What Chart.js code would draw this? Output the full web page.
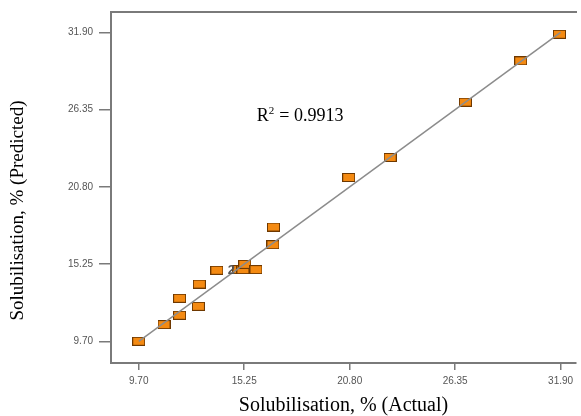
<!DOCTYPE html>
<html>
<head>
<meta charset="utf-8">
<script src="https://cdn.jsdelivr.net/npm/chart.js@4/dist/chart.umd.min.js"></script>
<style>
  html, body { margin: 0; padding: 0; background: #fff; overflow: hidden; }
  #wrap { width: 581px; height: 416px; }
</style>
</head>
<body>
<div id="wrap"><canvas id="parity"></canvas></div>
<script>
// actual vs predicted solubilisation (%)
var actual    = [9.70, 11.03, 11.85, 12.84, 11.85, 12.89, 13.81, 14.97, 15.18, 15.28, 15.87, 16.76, 16.79, 20.75, 22.93, 26.89, 29.80, 31.84];
var predicted = [9.70, 10.90, 11.57, 12.21, 12.79, 13.81, 14.80, 14.85, 14.85, 15.23, 14.85, 16.64, 17.91, 21.47, 22.91, 26.88, 29.85, 31.76];
var tickValues = [9.70, 15.25, 20.80, 26.35, 31.90];
var fitEnds = [9.70, 31.90];
var r2Text = 'R² = 0.9913';
var dupIndex = 7;   // point with the "2" count label

var axisGrey = '#7a7a7a';
var tickFont = { family: 'Liberation Sans', size: 10 };
var titleFont = { family: 'Liberation Serif', size: 20, lineHeight: 1 };

// little orange rectangle marker
var marker = document.createElement('canvas');
marker.width = 13;
marker.height = 9;
var mctx = marker.getContext('2d');
mctx.fillStyle = '#f48a12';
mctx.fillRect(0.5, 0.5, 12, 8);
mctx.strokeStyle = '#6e3800';
mctx.lineWidth = 1;
mctx.strokeRect(0.5, 0.5, 12, 8);

var points = actual.map(function(a, i){ return { x: a, y: predicted[i] }; });
var fitLine = fitEnds.map(function(v){ return { x: v, y: v }; });

function fixTicks(scale){
    scale.ticks = tickValues.map(function(v){ return { value: v }; });
}

// R^2 text, the "2" count label and the y title (sits a bit low in the original)
var labelsPlugin = {
    id: 'labels',
    afterDatasetsDraw: function(chart){
        var ctx = chart.ctx;
        var xs = chart.scales.x, ys = chart.scales.y;
        var rx = xs.getPixelForValue(15.91), ry = ys.getPixelForValue(25.5);
        ctx.save();
        ctx.fillStyle = '#000';
        ctx.font = '18px "Liberation Serif"';
        ctx.textBaseline = 'alphabetic';
        ctx.textAlign = 'left';
        ctx.fillText('R', rx, ry);
        var rw = ctx.measureText('R').width;
        ctx.font = '11px "Liberation Serif"';
        ctx.fillText('2', rx + rw, ry - 7);
        ctx.font = '18px "Liberation Serif"';
        ctx.fillText(r2Text.slice(2), rx + rw + 6, ry);

        ctx.fillStyle = '#555';
        ctx.font = 'bold 13px "Liberation Sans"';
        ctx.textAlign = 'right';
        ctx.textBaseline = 'middle';
        ctx.fillText('2', xs.getPixelForValue(actual[dupIndex]) - 4, ys.getPixelForValue(predicted[dupIndex]) + 1);

        var a = chart.chartArea;
        ctx.translate(18, (a.top + a.bottom) / 2 + 23);
        ctx.rotate(-Math.PI / 2);
        ctx.fillStyle = '#000';
        ctx.font = '19px "Liberation Serif"';
        ctx.textAlign = 'center';
        ctx.fillText('Solubilisation, % (Predicted)', 0, 0);
        ctx.restore();
    }
};

new Chart(document.getElementById('parity'), {
    type: 'scatter',
    data: {
        datasets: [{
            type: 'line',
            data: fitLine,
            borderColor: '#8c8c8c',
            borderWidth: 1.5,
            pointRadius: 0,
            order: 0
        }, {
            data: points,
            pointStyle: marker,
            order: 1
        }]
    },
    options: {
        responsive: true,
        maintainAspectRatio: false,
        animation: false,
        layout: { padding: 0 },
        plugins: {
            legend: { display: false },
            tooltip: { enabled: false }
        },
        scales: {
            x: {
                type: 'linear',
                position: 'bottom',
                min: 8.24,
                max: 32.71,
                afterBuildTicks: fixTicks,
                afterFit: function(s){ s.height = 53; },
                ticks: {
                    color: '#555',
                    font: tickFont,
                    padding: 5,
                    autoSkip: false,
                    maxRotation: 0,
                    callback: function(v){ return Number(v).toFixed(2); }
                },
                grid: { drawOnChartArea: false, tickLength: 7, color: axisGrey, lineWidth: 1.5 },
                border: { color: axisGrey, width: 2 },
                title: { display: true, text: 'Solubilisation, % (Actual)', color: '#000', font: titleFont, padding: 0 }
            },
            xTop: {
                type: 'linear',
                position: 'top',
                min: 8.24,
                max: 32.71,
                afterFit: function(s){ s.height = 12; },
                ticks: { display: false },
                grid: { display: false, drawTicks: false },
                border: { color: axisGrey, width: 2 }
            },
            y: {
                type: 'linear',
                min: 8.14,
                max: 33.36,
                afterBuildTicks: fixTicks,
                afterFit: function(s){ s.width = 111; },
                ticks: {
                    color: '#555',
                    font: tickFont,
                    padding: 6,
                    callback: function(v){ return Number(v).toFixed(2); }
                },
                grid: { drawOnChartArea: false, tickLength: 12, color: axisGrey, lineWidth: 1.5 },
                border: { color: axisGrey, width: 2 },
                title: { display: false }
            }
        }
    },
    plugins: [labelsPlugin]
});
</script>
</body>
</html>
